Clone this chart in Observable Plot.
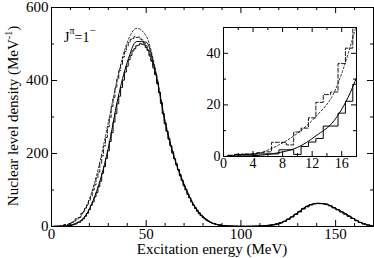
<!DOCTYPE html>
<html><head><meta charset="utf-8">
<script src="https://cdn.jsdelivr.net/npm/d3@7"></script>
<script src="https://cdn.jsdelivr.net/npm/@observablehq/plot@0.6"></script>
<style>
body{margin:0;background:#fff;}
#wrap{position:relative;width:374px;height:258px;}
#wrap svg{position:absolute;left:0;top:0;overflow:visible;max-width:none;}
#wrap svg.inset{left:190px;top:20px;}
#wrap svg, #wrap svg text, #wrap svg tspan{font-family:"Liberation Serif","Times New Roman",Times,"DejaVu Serif",serif !important;}
</style></head><body><div id="wrap"></div>
<script>
// ---------- data ----------
// smooth curves: every 2.5 MeV up to 25, then every 5 MeV up to 170
const curveE = [...d3.range(0, 25, 2.5), ...d3.range(25, 171, 5)];
const solidCurve  = [0,0.2,0.5,1.5,3.5,8,14,27,48,78,
  115,215,350,450,507,505,420,285,185,115,60,27,9,3,1,0.5,0.5,1,3,7,20,38,56,63,61,49,36,20,7,2];
const dashedCurve = [0,0.5,1.5,4.5,9,15.5,25,46,75,115,
  165,285,410,505,543,522,428,290,188,117,61,28,9.5,3,1,0.5,0.5,1,3,7.5,20.5,38.5,56.5,63.5,61.5,49.5,36,20,7,2];
// histograms: 1 MeV bins centred on 0..89, then 2 MeV bins centred on 91..169
const histE = [...d3.range(0, 90, 1), ...d3.range(91, 170, 2)];
const solidHist = [
 0,0.3,0.8,0.8,0.9,1,1,1,2.6,2.6,
 0.8,3.9,5.6,7,11.8,11.8,16.8,21.4,28,36,
 46,58,67,81,93,109,124,146,164,186,
 207,233,257,286,309,336,357,381,401,423,
 439,457,469,481,487,495,497,501,499,498,
 490,483,467,453,434,416,391,367,337,309,
 281,261,239,221,201,186,169,156,139,127,
 111,101,88,79,67,59,49,43,35,30,
 25,21,17,14,11,9,7.5,6,4.5,3.5,
 2.5,1.5,1,0.7,0.5,0.4,0.4,0.5,0.7,1,
 1.5,2.5,3.5,5,7,10,14,20,26,33,
 40,48,54,59,62,63,63,61,57,51,
 46,40,34,28,22,16,11,7,4,2];
const dashedHist = [
 0,0.5,0.8,1,1,1.5,1.8,5.5,5.5,4.5,
 9.5,11,15,21,24,25,36,42,50,58,
 71,83,100,114,133,149,173,194,221,244,
 273,299,329,354,382,404,427,444,464,479,
 494,504,513,515,520,518,519,514,511,502,
 495,483,472,454,439,417,395,367,341,309,
 285,261,242,221,205,186,172,155,142,126,
 114,100,91,78,70,58,52,42,38,30,
 26,22,18,15,12,9.5,8,6,5,4,
 2.5,1.5,1,0.7,0.5,0.4,0.5,0.5,0.8,1.1,
 1.6,2.6,3.7,5.2,7.5,10.5,14.5,20.5,27,34,
 41,49,55,60,63,64,63,61,57,52,
 46,40,34,28,22,16,11,7,4,2];
// ticks
const xTicks = [0,50,100,150];
const xMinor = [10,20,30,40,60,70,80,90,110,120,130,140,160];
const yTicks = [0,200,400,600];
const yMinor = [100,300,500];
const ixTicks = [0,4,8,12,16];
const ixMinor = [2,6,10,14,18];
const iyTicks = [0,20,40];
const iyMinor = [10,30,50];

const curveRows = curveE.map((e,i)=>({e, s: solidCurve[i], d: dashedCurve[i]}));
const histRows = histE.map((e,i)=>({e, s: solidHist[i], d: dashedHist[i]}));

const FONT = '"Liberation Serif", "Times New Roman", serif';

function ticksMarks(fw, fh, xt, xm, yt, ym, big, small) {
  return [
    Plot.tickX(xm, {x: d=>d, insetTop: fh-small, stroke:"black"}),
    Plot.tickX(xm, {x: d=>d, insetBottom: fh-small, stroke:"black"}),
    Plot.tickX(xt, {x: d=>d, insetTop: fh-big, stroke:"black"}),
    Plot.tickX(xt, {x: d=>d, insetBottom: fh-big, stroke:"black"}),
    Plot.tickY(ym, {y: d=>d, insetRight: fw-small, stroke:"black"}),
    Plot.tickY(ym, {y: d=>d, insetLeft: fw-small, stroke:"black"}),
    Plot.tickY(yt, {y: d=>d, insetRight: fw-big, stroke:"black"}),
    Plot.tickY(yt, {y: d=>d, insetLeft: fw-big, stroke:"black"})
  ];
}

function seriesMarks(clip) {
  return [
    Plot.line(curveRows, {x:"e", y:"d", curve:"monotone-x", stroke:"black", strokeWidth:0.8, strokeDasharray:"2,2", clip}),
    Plot.line(histRows, {x:"e", y:"d", curve:"step", stroke:"black", strokeWidth:0.9, strokeDasharray:"4,2", clip}),
    Plot.line(curveRows, {x:"e", y:"s", curve:"monotone-x", stroke:"black", strokeWidth:1, clip}),
    Plot.line(histRows, {x:"e", y:"s", curve:"step", stroke:"black", strokeWidth:1, clip})
  ];
}

// ---------- main ----------
const W = 374, H = 258, mL = 51, mR = 1, mT = 7, mB = 32;
const fw = W-mL-mR, fh = H-mT-mB;
const main = Plot.plot({
  width: W, height: H, marginLeft: mL, marginRight: mR, marginTop: mT, marginBottom: mB,
  style: {fontFamily: FONT, fontSize: "15px", background: "transparent", color: "black"},
  x: {domain: [0,170], label: null},
  y: {domain: [0,600], label: null},
  marks: [
    ...seriesMarks(false),
    ...ticksMarks(fw, fh, xTicks, xMinor, yTicks, yMinor, 6, 3),
    Plot.frame({stroke: "black", strokeWidth: 1}),
    Plot.axisX({ticks: xTicks, tickSize: 0, tickPadding: 2, label: null, fill: "black"}),
    Plot.axisY({ticks: yTicks, tickSize: 0, tickPadding: 3, label: null, fill: "black"})
  ]
});
document.getElementById("wrap").appendChild(main);
const s = d3.select(main);
s.append("text").attr("x", 212).attr("y", 254).attr("text-anchor","middle")
  .attr("font-family", FONT).attr("font-size", 15).attr("fill","black")
  .text("Excitation energy (MeV)");
const yl = s.append("text").attr("transform","translate(18,116) rotate(-90)").attr("text-anchor","middle")
  .attr("font-family", FONT).attr("font-size", 15).attr("fill","black");
yl.append("tspan").text("Nuclear level density (MeV");
yl.append("tspan").attr("font-size", 10).attr("dy", -6).text("-1");
yl.append("tspan").attr("dy", 6).text(")");
const jl = s.append("text").attr("x", 64).attr("y", 42).attr("text-anchor","start")
  .attr("font-family", FONT).attr("font-size", 14).attr("fill","black");
jl.append("tspan").text("J");
jl.append("tspan").attr("font-size", 10).attr("dy", -8).text("π");
jl.append("tspan").attr("dy", 8).text("=1");
jl.append("tspan").attr("font-size", 11).attr("dy", -8).text("−");

// ---------- inset ----------
const iW = 170, iH = 155, imL = 33, imR = 4, imT = 7, imB = 19;
const ifw = iW-imL-imR, ifh = iH-imT-imB;
const inset = Plot.plot({
  width: iW, height: iH, marginLeft: imL, marginRight: imR, marginTop: imT, marginBottom: imB,
  style: {fontFamily: FONT, fontSize: "14px", background: "transparent", color: "black"},
  x: {domain: [0,18], label: null},
  y: {domain: [0,50], label: null},
  marks: [
    ...seriesMarks(true),
    ...ticksMarks(ifw, ifh, ixTicks, ixMinor, iyTicks, iyMinor, 5, 3),
    Plot.frame({stroke: "black", strokeWidth: 1}),
    Plot.axisX({ticks: ixTicks, tickSize: 0, tickPadding: 2, label: null, fill: "black"}),
    Plot.axisY({ticks: iyTicks, tickSize: 0, tickPadding: 3, label: null, fill: "black"})
  ]
});
inset.setAttribute("class", (inset.getAttribute("class")||"") + " inset");
document.getElementById("wrap").appendChild(inset);
</script></body></html>
